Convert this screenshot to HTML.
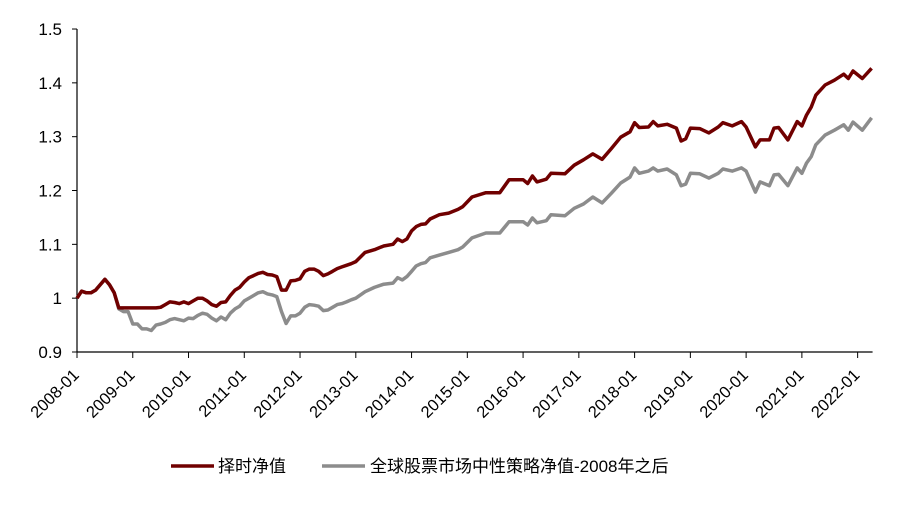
<!DOCTYPE html>
<html><head><meta charset="utf-8"><style>
body{margin:0;background:#fff;}
svg text{font-family:"Liberation Sans","Noto Sans CJK SC",sans-serif;}
</style></head><body>
<svg id="chart" width="908" height="510" xmlns="http://www.w3.org/2000/svg">
<g id="axes"></g><g id="series"></g>
<g>
<line x1="171" y1="466" x2="214" y2="466" stroke="#700000" stroke-width="3.5"/>
<text x="218" y="472" font-size="17">择时净值</text>
<line x1="322" y1="466" x2="365" y2="466" stroke="#8c8c8c" stroke-width="3.5"/>
<text x="370" y="472" font-size="17">全球股票市场中性策略净值-2008年之后</text>
</g>
</svg>
<script>
const months=[0,1,2,3,4,5,6,7,8,9,10,11,12,13,14,15,16,17,18,19,20,21,22,23,24,25,26,27,28,29,30,31,32,33,34,35,36,37,38,39,40,41,42,43,44,45,46,47,48,49,50,51,52,53,54,55,56,57,58,59,60,62,64,66,68,69,70,71,72,73,74,75,76,78,80,82,83,85,88,91,93,96,97,98,99,101,102,105,107,109,111,113,115,117,119,120,121,123,124,125,127,129,130,131,132,134,136,138,139,141,143,144,146,147,149,150,151,153,155,156,157,158,159,161,163,165,166,167,169,171];
const timingNav=[1.0,1.013,1.01,1.01,1.015,1.025,1.035,1.025,1.01,0.982,0.982,0.982,0.982,0.982,0.982,0.982,0.982,0.982,0.983,0.988,0.993,0.992,0.99,0.993,0.99,0.995,1.0,1.0,0.995,0.988,0.985,0.992,0.993,1.005,1.015,1.02,1.03,1.038,1.042,1.046,1.048,1.044,1.043,1.04,1.015,1.015,1.032,1.033,1.036,1.05,1.054,1.054,1.05,1.042,1.045,1.05,1.055,1.058,1.061,1.064,1.068,1.085,1.09,1.097,1.1,1.11,1.105,1.11,1.125,1.133,1.137,1.138,1.147,1.155,1.158,1.165,1.17,1.188,1.196,1.196,1.22,1.22,1.213,1.227,1.216,1.221,1.232,1.231,1.247,1.257,1.268,1.258,1.278,1.299,1.309,1.326,1.317,1.318,1.328,1.32,1.323,1.316,1.292,1.296,1.316,1.315,1.307,1.318,1.326,1.32,1.328,1.318,1.281,1.294,1.294,1.316,1.317,1.294,1.328,1.32,1.34,1.355,1.377,1.396,1.405,1.416,1.408,1.422,1.408,1.427];
const globalNav=[1.0,1.013,1.01,1.01,1.015,1.025,1.035,1.025,1.01,0.98,0.975,0.975,0.952,0.952,0.943,0.943,0.94,0.95,0.952,0.955,0.96,0.962,0.96,0.958,0.963,0.962,0.968,0.972,0.97,0.963,0.958,0.965,0.96,0.972,0.98,0.985,0.995,1.0,1.005,1.01,1.012,1.008,1.006,1.003,0.975,0.953,0.967,0.967,0.972,0.983,0.988,0.987,0.985,0.977,0.978,0.983,0.988,0.99,0.993,0.997,1.0,1.012,1.02,1.026,1.028,1.038,1.034,1.04,1.05,1.06,1.064,1.066,1.075,1.08,1.085,1.09,1.095,1.112,1.121,1.121,1.142,1.142,1.136,1.149,1.14,1.144,1.155,1.153,1.167,1.175,1.188,1.177,1.195,1.214,1.225,1.242,1.232,1.236,1.242,1.236,1.24,1.229,1.209,1.212,1.232,1.231,1.223,1.232,1.24,1.236,1.242,1.236,1.197,1.216,1.209,1.229,1.23,1.209,1.242,1.232,1.251,1.263,1.285,1.303,1.312,1.322,1.312,1.327,1.312,1.335];
const yTicks=[0.9,1,1.1,1.2,1.3,1.4,1.5];
const yTickLabels=["0.9","1","1.1","1.2","1.3","1.4","1.5"];
const xTickLabels=["2008-01","2009-01","2010-01","2011-01","2012-01","2013-01","2014-01","2015-01","2016-01","2017-01","2018-01","2019-01","2020-01","2021-01","2022-01"];

const NS="http://www.w3.org/2000/svg";
const X0=77, PXM=55.76/12, Y0=352, PXV=538.3;
function xs(m){return X0+m*PXM;}
function ys(v){return Y0-(v-0.9)*PXV;}
function mk(tag,attrs,parent){const e=document.createElementNS(NS,tag);for(const k in attrs)e.setAttribute(k,attrs[k]);parent.appendChild(e);return e;}
const axes=document.getElementById('axes'), series=document.getElementById('series');
let a=mk('line',{x1:X0,y1:ys(0.9),x2:X0,y2:ys(1.5),stroke:'#000','stroke-width':1.2},axes);


a=mk('line',{x1:X0,y1:Y0,x2:xs(171)+1,y2:Y0,stroke:'#000','stroke-width':1.2},axes);


yTicks.forEach((v,i)=>{
  const t=mk('line',{x1:X0-5,y1:ys(v),x2:X0,y2:ys(v),stroke:'#000','stroke-width':1},axes);
  
  
  const l=mk('text',{x:X0-15,y:ys(v)+6,'font-size':17,'text-anchor':'end'},axes);
  l.textContent=yTickLabels[i];
  
  
});
xTickLabels.forEach((s,i)=>{
  const x=xs(i*12);
  const t=mk('line',{x1:x,y1:Y0,x2:x,y2:Y0+6,stroke:'#000','stroke-width':1},axes);
  
  
  const px=x+3, py=Y0+24;
  const l=mk('text',{x:px,y:py,'font-size':16.5,'text-anchor':'end',transform:`rotate(-45 ${px} ${py})`},axes);
  l.textContent=s;
  
  
});
function line(vals,color,name){
  const d=months.map((m,i)=>(i?'L':'M')+xs(m).toFixed(1)+','+ys(vals[i]).toFixed(1)).join(' ');
  const p=mk('path',{d:d,fill:'none',stroke:color,'stroke-width':3.5,'stroke-linejoin':'round'},series);
  
  
}
line(globalNav,'#8c8c8c','global-neutral-nav-line');
line(timingNav,'#700000','timing-nav-line');
</script>
</body></html>
